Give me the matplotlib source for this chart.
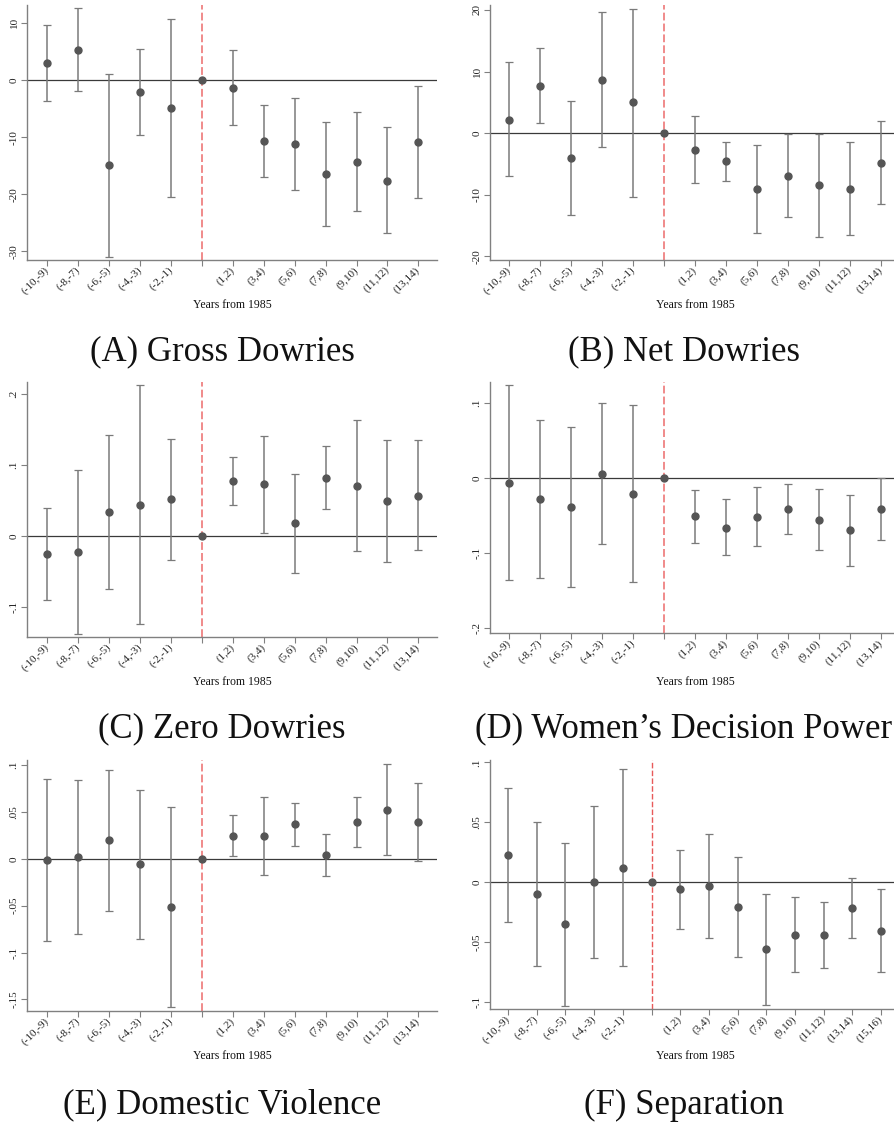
import matplotlib
matplotlib.use("Agg")
import matplotlib.pyplot as plt
import numpy as np

plt.rcParams['font.family'] = ['Liberation Serif', 'DejaVu Serif']

# ---------------- data ----------------
periods_13 = ["(-10,-9)", "(-8,-7)", "(-6,-5)", "(-4,-3)", "(-2,-1)", "",
              "(1,2)", "(3,4)", "(5,6)", "(7,8)", "(9,10)", "(11,12)", "(13,14)"]
periods_14 = periods_13 + ["(15,16)"]

gross_coef = [2.9, 5.2, -14.9, -2.2, -5.0, 0.0, -1.4, -10.6, -11.2, -16.4, -14.3, -17.6, -10.9]
gross_lo   = [-3.7, -1.9, -30.9, -9.7, -20.5, 0.0, -7.9, -16.9, -19.3, -25.6, -23.0, -26.8, -20.6]
gross_hi   = [9.6, 12.5, 1.1, 5.4, 10.6, 0.0, 5.2, -4.4, -3.1, -7.3, -5.6, -8.2, -1.1]

net_coef = [2.2, 7.7, -4.0, 8.6, 5.0, 0.0, -2.7, -4.6, -9.1, -6.9, -8.5, -9.0, -4.8]
net_lo   = [-7.0, 1.6, -13.3, -2.3, -10.3, 0.0, -8.1, -7.8, -16.2, -13.6, -16.9, -16.5, -11.5]
net_hi   = [11.5, 13.8, 5.2, 19.7, 20.2, 0.0, 2.8, -1.4, -2.0, -0.1, -0.2, -1.5, 1.9]

zero_coef = [-0.0245, -0.0226, 0.034, 0.044, 0.052, 0.0, 0.078, 0.073, 0.018, 0.082, 0.071, 0.050, 0.057]
zero_lo   = [-0.089, -0.137, -0.074, -0.124, -0.033, 0.0, 0.044, 0.005, -0.052, 0.038, -0.021, -0.036, -0.020]
zero_hi   = [0.040, 0.0927, 0.142, 0.213, 0.137, 0.0, 0.111, 0.141, 0.0875, 0.127, 0.164, 0.136, 0.135]

power_coef = [-0.0058, -0.028, -0.0387, 0.0058, -0.0204, 0.0, -0.0507, -0.0658, -0.0516, -0.0409, -0.0556, -0.0693, -0.0413]
power_lo   = [-0.135, -0.133, -0.145, -0.0876, -0.138, 0.0, -0.0858, -0.1027, -0.0907, -0.0747, -0.096, -0.1164, -0.0818]
power_hi   = [0.1236, 0.077, 0.0676, 0.0996, 0.0973, 0.0, -0.0151, -0.028, -0.0116, -0.0071, -0.0147, -0.0218, -0.0004]

dv_coef = [-0.0014, 0.0018, 0.0196, -0.006, -0.0516, 0.0, 0.0242, 0.0242, 0.0367, 0.0039, 0.0391, 0.0523, 0.0395]
dv_lo   = [-0.088, -0.080, -0.056, -0.086, -0.158, 0.0, 0.0025, -0.0174, 0.0139, -0.0189, 0.0125, 0.0036, -0.0025]
dv_hi   = [0.085, 0.0836, 0.095, 0.0737, 0.055, 0.0, 0.0463, 0.0658, 0.0598, 0.0267, 0.0658, 0.1014, 0.081]

sep_coef = [0.0223, -0.0097, -0.0354, 0.0, 0.012, 0.0, -0.0061, -0.0033, -0.0206, -0.056, -0.044, -0.0443, -0.022, -0.0407]
sep_lo   = [-0.0337, -0.0699, -0.1033, -0.0632, -0.0702, 0.0, -0.039, -0.0468, -0.0627, -0.1028, -0.0755, -0.0716, -0.0471, -0.0755]
sep_hi   = [0.0785, 0.0504, 0.0329, 0.0632, 0.0944, 0.0, 0.0267, 0.0398, 0.0212, -0.0097, -0.0123, -0.017, 0.0033, -0.0061]

ytick_gross = [-30, -20, -10, 0, 10]
ytick_gross_lbl = ["-30", "-20", "-10", "0", "10"]
ytick_net = [-20, -10, 0, 10, 20]
ytick_net_lbl = ["-20", "-10", "0", "10", "20"]
ytick_zero = [-0.1, 0, 0.1, 0.2]
ytick_zero_lbl = ["-.1", "0", ".1", ".2"]
ytick_power = [-0.2, -0.1, 0, 0.1]
ytick_power_lbl = ["-.2", "-.1", "0", ".1"]
ytick_dv = [-0.15, -0.1, -0.05, 0, 0.05, 0.1]
ytick_dv_lbl = ["-.15", "-.1", "-.05", "0", ".05", ".1"]
ytick_sep = [-0.1, -0.05, 0, 0.05, 0.1]
ytick_sep_lbl = ["-.1", "-.05", "0", ".05", ".1"]

captions = ["(A) Gross Dowries", "(B) Net Dowries", "(C) Zero Dowries",
            "(D) Women\u2019s Decision Power", "(E) Domestic Violence", "(F) Separation"]
xlabel_text = "Years from 1985"
ref_label = ""

# ---------------- layout ----------------
W, H = 894, 1126
fig = plt.figure(figsize=(W / 100, H / 100), dpi=100)


def rect(l, t, r, b):
    return [l / W, 1 - b / H, (r - l) / W, (b - t) / H]


PT = '#555555'
BAR = '#7a7a7a'
AXC = '#808080'
REF = '#f08a8a'

panels = [
    dict(box=(27, 5, 437, 260), xlim=(0.35, 13.6), ylim=(-31.5, 13.1), labels=periods_13,
         c=gross_coef, lo=gross_lo, hi=gross_hi, yt=ytick_gross, ytl=ytick_gross_lbl,
         cap=captions[0], cx=222, cy=352, lx=232, ly=305, rc=REF, rlw=1.4),
    dict(box=(490, 5, 894, 260), xlim=(0.39, 13.42), ylim=(-20.6, 20.8), labels=periods_13,
         c=net_coef, lo=net_lo, hi=net_hi, yt=ytick_net, ytl=ytick_net_lbl,
         cap=captions[1], cx=684, cy=352, lx=695, ly=305, rc=REF, rlw=1.4),
    dict(box=(27, 382, 437, 637), xlim=(0.35, 13.6), ylim=(-0.1417, 0.217), labels=periods_13,
         c=zero_coef, lo=zero_lo, hi=zero_hi, yt=ytick_zero, ytl=ytick_zero_lbl,
         cap=captions[2], cx=222, cy=729, lx=232, ly=682, rc=REF, rlw=1.4),
    dict(box=(490, 382, 894, 633), xlim=(0.39, 13.42), ylim=(-0.206, 0.128), labels=periods_13,
         c=power_coef, lo=power_lo, hi=power_hi, yt=ytick_power, ytl=ytick_power_lbl,
         cap=captions[3], cx=684, cy=729, lx=695, ly=682, rc=REF, rlw=1.4),
    dict(box=(27, 760, 437, 1011), xlim=(0.35, 13.6), ylim=(-0.1623, 0.1053), labels=periods_13,
         c=dv_coef, lo=dv_lo, hi=dv_hi, yt=ytick_dv, ytl=ytick_dv_lbl,
         cap=captions[4], cx=222, cy=1105, lx=232, ly=1056, rc=REF, rlw=1.4),
    dict(box=(490, 760, 894, 1009), xlim=(0.37, 14.45), ylim=(-0.106, 0.102), labels=periods_14,
         c=sep_coef, lo=sep_lo, hi=sep_hi, yt=ytick_sep, ytl=ytick_sep_lbl,
         cap=captions[5], cx=684, cy=1105, lx=695, ly=1056, rc='#e85a5a', rlw=1.0),
]

for p in panels:
    ax = fig.add_axes(rect(*p['box']))
    n = len(p['c'])
    x = np.arange(1, n + 1)
    c = np.array(p['c'])
    lo = np.array(p['lo'])
    hi = np.array(p['hi'])
    ref = p['labels'].index(ref_label) + 1
    m = hi > lo
    ax.axhline(0, color='#3a3a3a', lw=0.9, zorder=1)
    ax.axvline(ref, color=p['rc'], lw=p['rlw'], dashes=(4, 1.6), zorder=1.5)
    ax.errorbar(x[m], c[m], yerr=[c[m] - lo[m], hi[m] - c[m]], fmt='none',
                ecolor=BAR, elinewidth=1.1, capsize=2.8, capthick=0.9, zorder=2)
    ax.plot(x, c, 'o', color=PT, ms=5, mec=PT, zorder=3)
    ax.set_xlim(*p['xlim'])
    ax.set_ylim(*p['ylim'])
    ax.set_xticks(x)
    ax.set_xticklabels(p['labels'], rotation=45, ha='right', va='center',
                       rotation_mode='anchor', fontsize=8)
    ax.set_yticks(p['yt'])
    ax.set_yticklabels(p['ytl'], rotation=90, va='center', fontsize=8)
    for s in ('top', 'right'):
        ax.spines[s].set_visible(False)
    for s in ('left', 'bottom'):
        ax.spines[s].set_color(AXC)
        ax.spines[s].set_linewidth(1.0)
    ax.tick_params(direction='out', length=4, width=0.8, color=AXC, pad=2, labelcolor='#222222')
    fig.text(p['lx'] / W, 1 - p['ly'] / H, xlabel_text, ha='center', va='center', fontsize=8.5,
             color='#111111')
    fig.text(p['cx'] / W, 1 - p['cy'] / H, p['cap'], ha='center', va='center', fontsize=25,
             color='#111111')

fig.savefig('out.png', dpi=100, facecolor='white')
